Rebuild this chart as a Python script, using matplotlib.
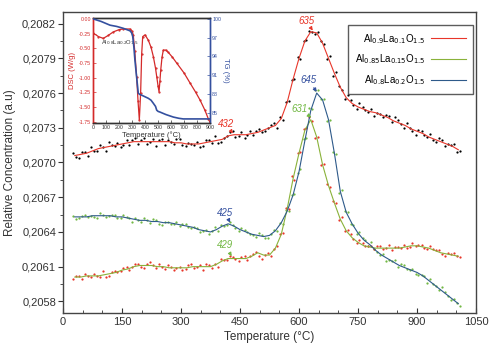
import numpy as np
import matplotlib
matplotlib.use("Agg")
import matplotlib.pyplot as plt
from matplotlib.ticker import MultipleLocator, FuncFormatter

plt.rcParams['font.family'] = ['Liberation Sans', 'DejaVu Sans']

# ---------------- data ----------------
temp = np.arange(30, 1006, 15)  # sampling temperatures (°C)

s1_label = r"Al$_{0.9}$La$_{0.1}$O$_{1.5}$"
s2_label = r"Al$_{0.85}$La$_{0.15}$O$_{1.5}$"
s3_label = r"Al$_{0.8}$La$_{0.2}$O$_{1.5}$"

s1_line = [0.20706, 0.20707, 0.20708, 0.20710, 0.20712, 0.20713, 0.20714, 0.20715, 0.20716, 0.20717, 0.20718,
           0.20718, 0.20718, 0.20718, 0.20718, 0.20718, 0.20718, 0.20717, 0.20717, 0.20716, 0.20716, 0.20716,
           0.20717, 0.20718, 0.20719, 0.20720, 0.20723, 0.20724, 0.20724, 0.20724, 0.20725, 0.20726, 0.20728,
           0.20730, 0.20732, 0.20738, 0.20752, 0.20772, 0.20790, 0.20805, 0.20813, 0.20812, 0.20803, 0.20790,
           0.20777, 0.20765, 0.20756, 0.20751, 0.20748, 0.20746, 0.20744, 0.20743, 0.20741, 0.20739, 0.20736,
           0.20734, 0.20732, 0.20729, 0.20727, 0.20725, 0.20722, 0.20720, 0.20718, 0.20716, 0.20714, 0.20711]

s3_line = [0.20653, 0.20653, 0.20653, 0.20654, 0.20654, 0.20654, 0.20654, 0.20653, 0.20653, 0.20652, 0.20651,
           0.20650, 0.20650, 0.20649, 0.20649, 0.20648, 0.20648, 0.20647, 0.20646, 0.20645, 0.20644, 0.20642,
           0.20641, 0.20640, 0.20642, 0.20645, 0.20647, 0.20645, 0.20642, 0.20640, 0.20638, 0.20637, 0.20636,
           0.20637, 0.20641, 0.20648, 0.20658, 0.20672, 0.20692, 0.20719, 0.20745, 0.20760, 0.20754, 0.20737,
           0.20708, 0.20675, 0.20657, 0.20647, 0.20639, 0.20633, 0.20629, 0.20624, 0.20620, 0.20617, 0.20614,
           0.20611, 0.20609, 0.20607, 0.20605, 0.20602, 0.20598, 0.20594, 0.20590, 0.20586, 0.20582, 0.20578]

s2_line = [0.20601, 0.20601, 0.20602, 0.20602, 0.20602, 0.20603, 0.20604, 0.20605, 0.20607, 0.20608, 0.20610,
           0.20611, 0.20611, 0.20611, 0.20610, 0.20610, 0.20609, 0.20609, 0.20609, 0.20609, 0.20610, 0.20610,
           0.20610, 0.20610, 0.20612, 0.20615, 0.20617, 0.20617, 0.20617, 0.20617, 0.20619, 0.20622, 0.20620,
           0.20620, 0.20626, 0.20638, 0.20660, 0.20686, 0.20708, 0.20728, 0.20737, 0.20722, 0.20698, 0.20680,
           0.20665, 0.20651, 0.20641, 0.20635, 0.20631, 0.20628, 0.20627, 0.20626, 0.20626, 0.20626, 0.20626,
           0.20626, 0.20627, 0.20628, 0.20628, 0.20627, 0.20626, 0.20624, 0.20622, 0.20621, 0.20620, 0.20619]

# measured-point scatter around each line (units of 1e-5)
s1_dev_a = [2, -3, 1, 3, -2, 0, 4, -1, -3, 2, 1, -2, 3, 0, -4, 2, 1, -1, 3, -2, 0, 2,
            -3, 1, 4, -2, 0, 3, -1, -3, 2, 1, -2, 0, 2, 1, 0, -1, 1, 0, 1, -1, 2, -1,
            -2, 1, -1, 3, -2, 2, 0, -3, 1, 2, -1, 3, -2, 1, -3, 2, 0, -1, 3, -2, 1, -2]
s1_dev_b = [-1, 2, -2, 0, 3, -3, 1, 2, -1, -2, 3, 1, -2, 2, 1, -3, 0, 3, -2, 1, -1, -3,
            2, -1, -2, 1, 3, -2, 2, 0, -1, 3, -1, 2, -2, -1, 1, 0, -1, 1, 0, 1, -1, 2,
            1, -2, 2, -1, 3, -1, 2, 0, -2, 1, 3, -1, 2, -2, 1, -1, 3, -2, 1, 0, 2, -1]
s3_dev_a = [1, -1, 2, 0, -2, 1, 0, 2, -1, 1, -2, 0, 2, -1, 1, -2, 1, 0, -1, 2, -1, 1,
            0, -2, 2, 1, -1, 1, -1, 2, 0, -1, 1, -2, 1, 0, 1, 0, -1, 1, 2, 3, 1, -1,
            1, -1, 1, 0, -1, 2, -1, 1, 0, -2, 1, -1, 2, 0, -1, 1, -2, 1, 0, 2, -1, 1]
s3_dev_b = [-2, 1, 0, -1, 2, -1, 1, -1, 2, 0, 1, -1, 0, 2, -2, 1, -1, 2, 1, -1, 0, -2,
            1, 1, -1, 0, 2, -2, 1, 0, -1, 2, -1, 1, 0, -1, 0, 1, 2, 2, 1, 3, 1, 0,
            -1, 1, 0, -1, 1, 0, 2, -1, 1, -1, 2, 1, -1, 1, -2, 0, 1, -1, 2, -1, 0, -2]
s2_dev_a = [-2, 1, 2, -1, 0, 3, -2, 1, -1, 2, 0, 1, -2, 3, -1, 0, 2, -2, 1, -1, 2, 0,
            -3, 1, 0, 2, -1, 1, -2, 2, 0, 1, -3, 2, -1, 0, 1, 2, 0, 1, 2, -1, 0, 1,
            2, -1, 0, 3, -1, 2, 1, -1, 2, 0, -2, 1, 2, -1, 0, 2, -1, 1, 2, -2, 1, 0]
s2_dev_b = [1, -2, 0, 2, -1, -2, 1, 0, 2, -1, 2, -1, 1, 0, 2, -2, 1, 0, -2, 2, -1, 1,
            2, -1, -2, 1, 2, 0, 1, -1, 2, -3, 0, -1, 2, 1, 0, -1, 1, 2, -1, 0, 1, -1,
            0, 2, 1, -1, 2, 0, 1, 2, -1, 3, 1, 0, -1, 2, 1, -1, 2, 0, -1, 1, 2, -1]

# inset: DSC / TG of Al0.8La0.2O1.5
dsc_temp = [0, 40, 77, 115, 154, 200, 231, 283, 300, 308, 320, 334, 345, 355, 365, 373, 381, 399, 424,
            445, 463, 480, 489, 500, 507, 514, 520, 530, 540, 560, 579, 610, 643, 700, 746, 790, 823, 860, 887, 900]
dsc_val = [-0.24, -0.30, -0.33, -0.28, -0.22, -0.18, -0.17, -0.17, -0.21, -0.27, -0.55, -0.98, -1.40, -1.72,
           -1.26, -0.60, -0.30, -0.27, -0.36, -0.48, -0.64, -0.84, -0.98, -1.15, -1.24, -1.05, -0.87, -0.65,
           -0.53, -0.53, -0.57, -0.65, -0.75, -0.92, -1.09, -1.25, -1.38, -1.55, -1.70, -1.76]
tg_temp = [0, 60, 129, 180, 231, 283, 295, 304, 313, 321, 335, 347, 360, 373, 424, 445, 463, 480, 489,
           500, 514, 560, 617, 660, 694, 800, 900]
tg_val = [100.0, 99.6, 99.0, 98.8, 98.5, 98.1, 97.8, 97.2, 95.5, 93.4, 90.5, 88.1, 87.9, 87.8, 87.3, 87.0,
          86.5, 86.0, 85.4, 85.2, 85.1, 84.7, 84.3, 84.1, 84.0, 84.0, 84.0]

x_ticks = [0, 150, 300, 450, 600, 750, 900, 1050]
y_ticks = [0.2058, 0.2061, 0.2064, 0.2067, 0.2070, 0.2073, 0.2076, 0.2079, 0.2082]

RED = '#e8362a'
GREEN = '#72b844'
BLUE = '#34509f'

# ---------------- figure ----------------
fig = plt.figure(figsize=(5.0, 3.54), dpi=100)
ax = fig.add_axes([0.126, 0.116, 0.826, 0.850])

t = np.asarray(temp, dtype=float)
def dots(line, dev):
    return np.asarray(line) + np.asarray(dev) * 1e-5

# scatter points
ms = 2.6
ax.scatter(t - 3.5, dots(s1_line, s1_dev_a), s=ms, color='black', lw=0, zorder=2)
ax.scatter(t + 3.5, dots(s1_line, s1_dev_b), s=ms, color='black', lw=0, zorder=2)
ax.scatter(t - 3.5, dots(s3_line, s3_dev_a), s=ms, color=GREEN, lw=0, zorder=2)
ax.scatter(t + 3.5, dots(s3_line, s3_dev_b), s=ms, color=GREEN, lw=0, zorder=2)
ax.scatter(t - 3.5, dots(s2_line, s2_dev_a), s=ms, color=RED, lw=0, zorder=2)
ax.scatter(t + 3.5, dots(s2_line, s2_dev_b), s=ms, color=RED, lw=0, zorder=2)

l1, = ax.plot(t, s1_line, color=RED, lw=0.8, zorder=3, label=s1_label)
l2, = ax.plot(t, s2_line, color='#8ab23a', lw=0.8, zorder=3, label=s2_label)
l3, = ax.plot(t, s3_line, color='#2e5a8a', lw=0.8, zorder=3, label=s3_label)

ax.set_xlim(0, 1050)
ax.set_ylim(0.20570, 0.20830)
ax.set_xticks(x_ticks)
ax.set_yticks(y_ticks)
ax.xaxis.set_minor_locator(MultipleLocator(50))
ax.yaxis.set_minor_locator(MultipleLocator(0.00015))
ax.yaxis.set_major_formatter(FuncFormatter(lambda v, p: f"{v:.4f}".replace('.', ',')))
ax.tick_params(axis='x', which='both', direction='in', colors='#333333')
ax.tick_params(axis='x', which='major', length=3.5, width=0.8, labelsize=8, pad=3)
ax.tick_params(axis='x', which='minor', length=2.5, width=0.6)
ax.tick_params(axis='y', which='both', direction='out', colors='#333333')
ax.tick_params(axis='y', which='major', length=3.5, width=0.8, labelsize=8, pad=1.5)
ax.tick_params(axis='y', which='minor', length=2.5, width=0.6)
for sp in ax.spines.values():
    sp.set_color('#444444')
    sp.set_linewidth(1.0)
ax.set_xlabel("Temperature (°C)", fontsize=8.5, color='#333333', labelpad=3)
ax.set_ylabel("Relative Concentration (a.u)", fontsize=8.5, color='#333333', labelpad=4)

leg = ax.legend(handles=[l1, l2, l3], loc='upper right', bbox_to_anchor=(0.993, 0.957),
                borderaxespad=0, markerfirst=False, fancybox=False, fontsize=7,
                handlelength=3.6, labelspacing=0.7, borderpad=0.7, handletextpad=0.6)
leg.get_frame().set_edgecolor('#333333')
leg.get_frame().set_linewidth(1.0)

# peak annotations
ann = dict(fontsize=7, style='italic', ha='center', va='bottom')
def mark(txt, xy, xytext, col):
    ax.annotate(txt, xy=xy, xytext=xytext, color=col,
                arrowprops=dict(arrowstyle='-|>', color=col, lw=0.8, mutation_scale=5,
                                shrinkA=0, shrinkB=0), zorder=6, **ann)

mark("635", (635, 0.20814), (618, 0.20818), RED)
mark("645", (645, 0.20761), (624, 0.20767), BLUE)
mark("631", (631, 0.20739), (601, 0.20742), GREEN)
mark("432", (432, 0.20725), (414, 0.20729), RED)
mark("425", (425, 0.20648), (412, 0.20652), BLUE)
mark("429", (429, 0.20619), (412, 0.20624), GREEN)

# ---------------- inset ----------------
ins = fig.add_axes([0.1866, 0.6517, 0.2334, 0.2966])
ins.plot(dsc_temp, dsc_val, color='#d42a2a', lw=0.9, marker='.', ms=1.2, zorder=3)
ins.set_xlim(0, 900)
ins.set_ylim(-1.777, 0.012)
ins.set_xticks([0, 100, 200, 300, 400, 500, 600, 700, 800, 900])
ins.set_yticks([0.00, -0.25, -0.50, -0.75, -1.00, -1.25, -1.50, -1.75])
ins.yaxis.set_major_formatter(FuncFormatter(lambda v, p: f"{v:.2f}"))
ins.tick_params(axis='both', direction='in', length=2, width=0.5, labelsize=3.8, pad=1.5)
ins.tick_params(axis='y', colors='#d42a2a')
ins.tick_params(axis='x', colors='#333333')
ins.set_ylabel("DSC (W/g)", fontsize=5.5, color='#d42a2a', labelpad=2)
ins.set_xlabel("Temperature (°C)", fontsize=5.5, color='#333333', labelpad=1)
ins.text(60, -0.40, r"Al$_{0.8}$La$_{0.2}$O$_{1.5}$", fontsize=4.2, color='#333333', va='center')

tw = ins.twinx()
tw.plot(tg_temp, tg_val, color=BLUE, lw=1.2, zorder=3)
tw.set_ylim(83.3, 100.1)
tw.set_yticks([100, 97, 94, 91, 88, 85])
tw.tick_params(axis='y', direction='in', length=2, width=0.5, labelsize=3.8, pad=1.5, colors=BLUE)
tw.set_ylabel("TG (%)", fontsize=5.5, color=BLUE, rotation=270, labelpad=6)

ins.spines['left'].set_color('#d42a2a')
tw.spines['left'].set_color('#d42a2a')
tw.spines['right'].set_color(BLUE)
ins.spines['right'].set_color(BLUE)
for a in (ins, tw):
    a.spines['top'].set_color('#333333')
    a.spines['bottom'].set_color('#333333')
    for sp in a.spines.values():
        sp.set_linewidth(1.0)

fig.savefig("out.png", dpi=100)
